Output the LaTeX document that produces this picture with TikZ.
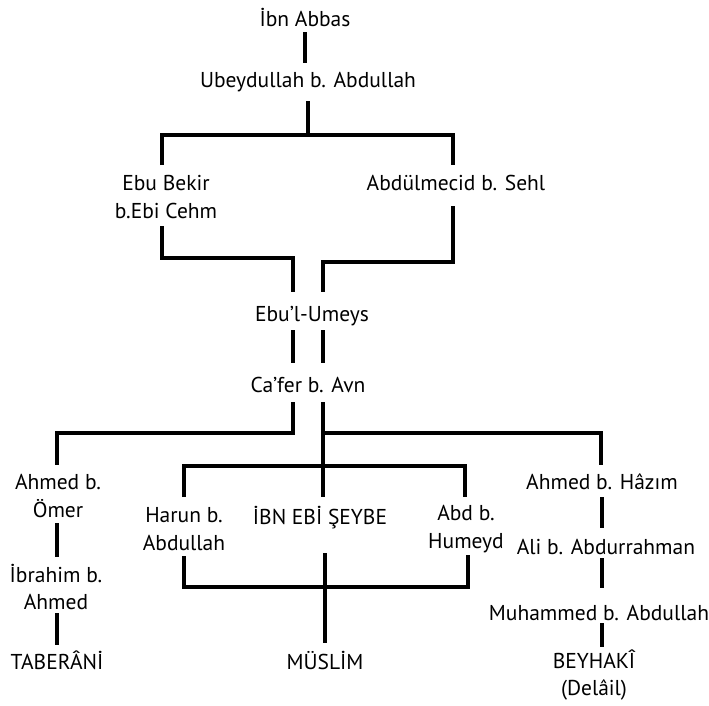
\documentclass[tikz,border=0pt]{standalone}
\usepackage{fontspec}
\setmainfont{PT Sans}
\begin{document}
\begin{tikzpicture}[x=1pt,y=-1pt,
  lbl/.style={font=\fontsize{21.5}{27.5}\selectfont, align=center, inner sep=0pt},
  ln/.style={line width=4pt, line join=miter}]
\useasboundingbox (0,0) rectangle (709,705);
\fill[white] (0,0) rectangle (709,705);
% nodes
\node[lbl] (ibn) at (305,17.5) {İbn Abbas};
\node[lbl] (ubey) at (308,82) {Ubeydullah b. Abdullah};
\node[lbl] (ebubekir) at (166,197) {Ebu Bekir\\b.Ebi Cehm};
\node[lbl] (abdulmecid) at (456,183) {Abdülmecid b. Sehl};
\node[lbl] (umeys) at (312,316) {Ebu’l-Umeys};
\node[lbl] (cafer) at (308,385) {Ca’fer b. Avn};
\node[lbl] (ahmedomer) at (58,496) {Ahmed b.\\Ömer};
\node[lbl] (ibrahim) at (56,587) {İbrahim b.\\Ahmed};
\node[lbl] (taberani) at (57,660) {TABERÂNİ};
\node[lbl] (harun) at (184,529) {Harun b.\\Abdullah};
\node[lbl] (ibnebi) at (320,518) {İBN EBİ ŞEYBE};
\node[lbl] (abd) at (466,529) {Abd b.\\Humeyd};
\node[lbl] (muslim) at (325,660) {MÜSLİM};
\node[lbl] (hazim) at (602,482) {Ahmed b. Hâzım};
\node[lbl] (ali) at (606,547) {Ali b. Abdurrahman};
\node[lbl] (muhammed) at (599,613) {Muhammed b. Abdullah};
\node[lbl] (beyhaki) at (594,675) {BEYHAKÎ\\(Delâil)};
% coordinates
\coordinate (a1) at (305,32);  \coordinate (a2) at (305,63);
\coordinate (b1) at (308,101); \coordinate (b2) at (308,135);
\coordinate (bl) at (162,135); \coordinate (br) at (453,135);
\coordinate (bl2) at (162,165); \coordinate (br2) at (453,165);
\coordinate (c1) at (162,226); \coordinate (c2) at (162,258);
\coordinate (c3) at (293,258); \coordinate (c4) at (293,292);
\coordinate (d1) at (453,206); \coordinate (d2) at (453,262);
\coordinate (d3) at (323,262); \coordinate (d4) at (323,292);
\coordinate (e1) at (293,330); \coordinate (e2) at (293,363);
\coordinate (f1) at (323,330); \coordinate (f2) at (323,363);
\coordinate (g1) at (293,402); \coordinate (g2) at (293,433);
\coordinate (g3) at (57,433);  \coordinate (g4) at (57,465);
\coordinate (h1) at (323,402); \coordinate (h2) at (323,497);
\coordinate (h3) at (323,433); \coordinate (h4) at (601,433);
\coordinate (h5) at (601,465);
\coordinate (i1) at (184,497); \coordinate (i2) at (184,466);
\coordinate (i3) at (465,466); \coordinate (i4) at (465,497);
\coordinate (j1) at (57,523);  \coordinate (j2) at (57,557);
\coordinate (k1) at (57,613);  \coordinate (k2) at (57,645);
\coordinate (m1) at (184,556); \coordinate (m2) at (184,587);
\coordinate (m3) at (468,587); \coordinate (m4) at (468,555);
\coordinate (n1) at (325,553); \coordinate (n2) at (325,643);
\coordinate (p1) at (602,497); \coordinate (p2) at (602,528);
\coordinate (q1) at (602,558); \coordinate (q2) at (602,588);
\coordinate (r1) at (602,623); \coordinate (r2) at (602,647);
% connectors
\draw[ln] (a1) -- (a2);
\draw[ln] (b1) -- (b2);
\draw[ln] (bl2) -- (bl) -- (br) -- (br2);
\draw[ln] (c1) -- (c2) -- (c3) -- (c4);
\draw[ln] (d1) -- (d2) -- (d3) -- (d4);
\draw[ln] (e1) -- (e2);
\draw[ln] (f1) -- (f2);
\draw[ln] (g1) -- (g2) -- (g3) -- (g4);
\draw[ln] (h1) -- (h2);
\draw[ln] (h3) -- (h4) -- (h5);
\draw[ln] (i1) -- (i2) -- (i3) -- (i4);
\draw[ln] (j1) -- (j2);
\draw[ln] (k1) -- (k2);
\draw[ln] (m1) -- (m2) -- (m3) -- (m4);
\draw[ln] (n1) -- (n2);
\draw[ln] (p1) -- (p2);
\draw[ln] (q1) -- (q2);
\draw[ln] (r1) -- (r2);
\end{tikzpicture}
\end{document}
